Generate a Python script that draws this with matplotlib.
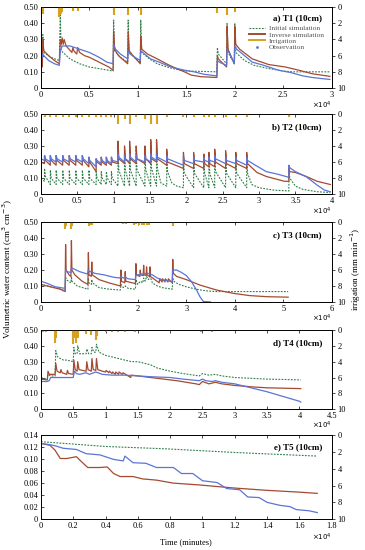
import matplotlib
matplotlib.use("Agg")
import matplotlib.pyplot as plt
from matplotlib.lines import Line2D

plt.rcParams['font.family'] = ['Liberation Serif', 'DejaVu Serif']
plt.rcParams['axes.linewidth'] = 0.6

# ---------------- DATA (time in 1e4 minutes) ----------------
# Panel a) T1
obs1 = [(0,0.19),(0.015,0.19),(0.02,0.21),(0.03,0.2),(0.08,0.17),(0.14,0.15),(0.19,0.14),(0.2,0.23),(0.22,0.26),
        (0.3,0.26),(0.4,0.24),(0.5,0.22),(0.6,0.19),(0.68,0.16),(0.745,0.15),(0.75,0.27),(0.77,0.24),(0.82,0.21),
        (0.895,0.18),(0.9,0.23),(0.92,0.21),(0.97,0.19),(1.025,0.17),(1.03,0.23),(1.05,0.22),(1.13,0.18),(1.22,0.16),
        (1.34,0.13),(1.48,0.11),(1.58,0.1),(1.68,0.085),(1.815,0.075),(1.82,0.17),(1.84,0.16),(1.915,0.14),(1.92,0.24),
        (1.94,0.22),(1.995,0.15),(2.0,0.26),(2.02,0.24),(2.1,0.2),(2.18,0.16),(2.3,0.14),(2.45,0.11),(2.58,0.095),
        (2.7,0.075),(2.8,0.065),(2.9,0.058),(2.98,0.053)]
inv1 = [(0,0.15),(0.015,0.13),(0.02,0.3),(0.03,0.23),(0.08,0.2),(0.14,0.17),(0.19,0.15),(0.2,0.3),(0.21,0.27),
        (0.22,0.31),(0.23,0.27),(0.24,0.3),(0.26,0.26),(0.32,0.22),(0.33,0.25),(0.34,0.23),(0.37,0.21),(0.38,0.25),
        (0.4,0.22),(0.45,0.2),(0.5,0.19),(0.6,0.16),(0.7,0.13),(0.745,0.11),(0.75,0.35),(0.76,0.24),(0.8,0.2),
        (0.895,0.15),(0.9,0.35),(0.91,0.23),(0.95,0.2),(1.025,0.15),(1.03,0.32),(1.04,0.24),(1.1,0.21),(1.2,0.18),
        (1.31,0.145),(1.4,0.12),(1.48,0.1),(1.55,0.08),(1.65,0.07),(1.815,0.065),(1.82,0.2),(1.83,0.18),(1.915,0.13),
        (1.92,0.38),(1.93,0.24),(1.995,0.15),(2.0,0.38),(2.01,0.27),(2.05,0.24),(2.18,0.18),(2.35,0.145),(2.52,0.13),
        (2.66,0.11),(2.8,0.088),(2.98,0.072)]
ini1 = [(0,0.14),(0.015,0.14),(0.02,0.33),(0.03,0.22),(0.1,0.19),(0.19,0.17),(0.2,0.45),(0.21,0.23),(0.3,0.18),
        (0.4,0.15),(0.5,0.13),(0.6,0.12),(0.745,0.105),(0.75,0.42),(0.76,0.23),(0.82,0.19),(0.895,0.16),(0.9,0.42),
        (0.91,0.23),(0.96,0.19),(1.025,0.16),(1.03,0.42),(1.04,0.22),(1.12,0.18),(1.2,0.15),(1.3,0.13),(1.4,0.115),
        (1.5,0.105),(1.815,0.1),(1.82,0.25),(1.83,0.21),(1.915,0.15),(1.92,0.4),(1.93,0.22),(1.995,0.15),(2.0,0.4),
        (2.01,0.22),(2.1,0.17),(2.2,0.14),(2.35,0.12),(2.5,0.105),(2.6,0.1),(2.98,0.1)]
irr1_t = [0.02, 0.19, 0.2, 0.21, 0.22, 0.33, 0.38, 0.75, 0.9, 1.03, 1.82, 1.92, 2.0]
irr1_v = [0.9, 1.2, 1.0, 0.8, 0.6, 0.5, 0.5, 1.0, 1.0, 1.0, 0.7, 1.0, 0.6]

# Panel b) T2 : irrigation events and, per series, value before / peak / after each event
ev2 = [0.05,0.13,0.21,0.3,0.39,0.48,0.57,0.66,0.76,0.83,0.9,0.97,1.06,1.15,1.22,1.31,1.43,1.51,1.59,1.73,
       1.96,2.1,2.24,2.31,2.39,2.54,2.68,2.83,3.41]
obs2_pre  = [0.21,0.2,0.2,0.2,0.2,0.2,0.2,0.19,0.17,0.19,0.19,0.19,0.2,0.2,0.2,0.2,0.2,0.2,0.21,0.2,
             0.18,0.19,0.2,0.2,0.2,0.19,0.19,0.18,0.105]
obs2_peak = [0.24,0.24,0.24,0.24,0.24,0.24,0.24,0.23,0.22,0.23,0.23,0.23,0.25,0.24,0.25,0.24,0.24,0.25,0.25,0.24,
             0.23,0.23,0.23,0.23,0.24,0.23,0.23,0.23,0.18]
obs2_post = [0.22,0.22,0.22,0.22,0.22,0.22,0.22,0.21,0.21,0.21,0.21,0.21,0.23,0.22,0.23,0.22,0.22,0.23,0.23,0.22,
             0.21,0.21,0.21,0.21,0.22,0.21,0.21,0.21,0.165]
obs2_extra = [(0,0.22),(2.95,0.18),(3.1,0.14),(3.25,0.125),(3.5,0.14),(3.65,0.108),(3.8,0.056),(3.9,0.025),(3.98,0.015)]
inv2_pre  = [0.19,0.18,0.18,0.18,0.18,0.18,0.18,0.17,0.14,0.18,0.18,0.18,0.19,0.19,0.19,0.19,0.19,0.19,0.2,0.18,
             0.16,0.16,0.16,0.17,0.17,0.16,0.16,0.16,0.08]
inv2_peak = [0.24,0.24,0.24,0.24,0.24,0.24,0.24,0.23,0.22,0.23,0.23,0.23,0.33,0.3,0.33,0.3,0.3,0.34,0.34,0.28,
             0.26,0.26,0.25,0.26,0.28,0.27,0.26,0.26,0.16]
inv2_post = [0.21,0.21,0.21,0.21,0.21,0.21,0.21,0.2,0.2,0.2,0.2,0.2,0.22,0.22,0.22,0.22,0.22,0.22,0.22,0.2,
             0.19,0.19,0.19,0.19,0.2,0.19,0.19,0.19,0.14]
inv2_extra = [(0,0.2),(2.97,0.135),(3.1,0.11),(3.35,0.08),(3.5,0.135),(3.65,0.11),(3.8,0.08),(3.98,0.06)]
ini2_pre  = [0.08,0.06,0.06,0.06,0.06,0.06,0.06,0.06,0.06,0.06,0.06,0.06,0.05,0.05,0.05,0.05,0.05,0.05,0.05,0.05,
             0.04,0.04,0.04,0.04,0.04,0.04,0.04,0.04,0.02]
ini2_peak = [0.16,0.15,0.15,0.15,0.15,0.15,0.15,0.15,0.14,0.14,0.14,0.14,0.3,0.28,0.3,0.28,0.28,0.33,0.33,0.26,
             0.24,0.24,0.23,0.24,0.26,0.25,0.24,0.24,0.17]
ini2_post = [0.11,0.1,0.1,0.1,0.1,0.1,0.1,0.1,0.1,0.1,0.1,0.1,0.15,0.15,0.15,0.15,0.15,0.16,0.16,0.14,
             0.13,0.13,0.13,0.13,0.14,0.13,0.13,0.13,0.1]
ini2_extra = [(0,0.1),(1.65,0.07),(1.8,0.07),(1.87,0.05),(2.9,0.06),(3.0,0.04),(3.2,0.025),(3.5,0.05),(3.6,0.03),
              (3.8,0.015),(3.98,0.01)]
irr2_v = [0.4,0.4,0.4,0.4,0.4,0.4,0.4,0.4,0.4,0.4,0.4,0.4,1.3,0.7,1.3,0.4,0.7,1.3,1.3,0.4,
          0.4,0.4,0.4,0.4,0.4,0.4,0.4,0.4,0.4]

# Panel c) T3
obs3 = [(0,0.13),(0.1,0.12),(0.3,0.095),(0.5,0.085),(0.51,0.2),(0.53,0.19),(0.62,0.185),(0.63,0.21),(0.66,0.21),
        (0.8,0.19),(0.96,0.175),(0.98,0.2),(1.0,0.19),(1.05,0.19),(1.1,0.18),(1.3,0.17),(1.5,0.155),(1.62,0.15),
        (1.65,0.16),(1.7,0.15),(1.74,0.155),(1.8,0.145),(1.95,0.14),(1.96,0.17),(2.0,0.17),(2.1,0.175),(2.2,0.18),
        (2.3,0.17),(2.4,0.15),(2.5,0.14),(2.6,0.135),(2.71,0.125),(2.72,0.2),(2.8,0.2),(2.9,0.185),(3.0,0.165),
        (3.1,0.13),(3.21,0.075),(3.28,0.033),(3.35,0.003),(3.5,0.0)]
inv3 = [(0,0.11),(0.2,0.095),(0.4,0.08),(0.5,0.065),(0.51,0.36),(0.52,0.2),(0.58,0.17),(0.62,0.16),(0.63,0.385),
        (0.64,0.2),(0.7,0.17),(0.85,0.13),(0.97,0.11),(0.98,0.31),(0.99,0.17),(1.04,0.16),(1.05,0.25),(1.06,0.17),
        (1.2,0.14),(1.4,0.12),(1.64,0.1),(1.65,0.2),(1.66,0.13),(1.73,0.12),(1.74,0.19),(1.75,0.13),(1.95,0.115),
        (1.96,0.24),(1.97,0.17),(2.04,0.16),(2.05,0.2),(2.06,0.17),(2.11,0.165),(2.12,0.23),(2.13,0.17),(2.17,0.165),
        (2.18,0.22),(2.19,0.17),(2.24,0.16),(2.25,0.22),(2.26,0.16),(2.35,0.14),(2.44,0.12),(2.45,0.145),(2.5,0.125),
        (2.51,0.145),(2.56,0.125),(2.57,0.145),(2.62,0.125),(2.63,0.145),(2.71,0.12),(2.72,0.267),(2.73,0.18),
        (2.8,0.16),(3.0,0.14),(3.28,0.106),(3.62,0.075),(3.97,0.054),(4.3,0.04),(4.66,0.033),(5.1,0.03)]
ini3 = [(0,0.11),(0.2,0.095),(0.4,0.08),(0.5,0.07),(0.51,0.16),(0.52,0.14),(0.62,0.12),(0.63,0.16),(0.64,0.13),
        (0.75,0.1),(0.97,0.08),(0.98,0.15),(0.99,0.12),(1.04,0.11),(1.05,0.14),(1.06,0.12),(1.2,0.09),(1.4,0.08),
        (1.64,0.075),(1.65,0.11),(1.7,0.09),(1.74,0.1),(1.8,0.085),(1.95,0.08),(1.96,0.14),(2.0,0.11),(2.05,0.13),
        (2.1,0.12),(2.12,0.15),(2.15,0.13),(2.18,0.16),(2.22,0.14),(2.25,0.16),(2.3,0.12),(2.4,0.1),(2.5,0.09),
        (2.6,0.085),(2.71,0.08),(2.72,0.15),(2.74,0.13),(2.85,0.11),(3.0,0.095),(3.2,0.08),(3.4,0.07),(3.6,0.065),
        (5.1,0.065)]
irr3_t = [0.5,0.52,0.63,0.65,1.0,1.02,1.05,1.7,1.76,1.93,1.97,2.03,2.08,2.13,2.18,2.24,2.72]
irr3_v = [0.8,0.5,0.9,0.5,0.5,0.3,0.4,0.2,0.2,0.3,0.2,0.3,0.3,0.3,0.3,0.3,0.5]

# Panel d) T4
obs4 = [(0,0.175),(0.1,0.175),(0.13,0.18),(0.15,0.2),(0.25,0.2),(0.4,0.2),(0.5,0.2),(0.52,0.24),(0.55,0.225),
        (0.6,0.22),(0.7,0.23),(0.75,0.22),(0.85,0.235),(0.95,0.22),(1.1,0.215),(1.3,0.215),(1.5,0.21),(1.7,0.205),
        (2.0,0.2),(2.2,0.19),(2.45,0.18),(2.5,0.19),(2.55,0.18),(2.65,0.175),(2.7,0.18),(2.8,0.17),(3.0,0.16),
        (3.25,0.135),(3.5,0.11),(3.75,0.08),(4.0,0.05),(4.02,0.045)]
inv4 = [(0,0.19),(0.1,0.185),(0.11,0.24),(0.13,0.22),(0.22,0.22),(0.23,0.29),(0.25,0.24),(0.3,0.23),(0.31,0.25),
        (0.33,0.23),(0.4,0.22),(0.41,0.245),(0.43,0.225),(0.5,0.22),(0.51,0.31),(0.53,0.25),(0.56,0.24),(0.57,0.3),
        (0.59,0.25),(0.7,0.24),(0.71,0.3),(0.73,0.25),(0.78,0.24),(0.79,0.32),(0.81,0.25),(0.85,0.245),(0.86,0.32),
        (0.88,0.25),(0.95,0.24),(1.0,0.235),(1.01,0.245),(1.05,0.23),(1.06,0.24),(1.1,0.225),(1.11,0.235),
        (1.15,0.22),(1.16,0.235),(1.2,0.22),(1.21,0.235),(1.26,0.22),(1.27,0.23),(1.35,0.21),(1.39,0.2),
        (1.4,0.215),(1.5,0.21),(1.7,0.2),(1.9,0.19),(2.1,0.18),(2.4,0.16),(2.45,0.155),(2.5,0.175),(2.6,0.16),
        (2.7,0.17),(2.8,0.16),(3.0,0.15),(3.3,0.14),(3.5,0.135),(4.02,0.13)]
ini4 = [(0,0.2),(0.1,0.19),(0.11,0.22),(0.15,0.21),(0.22,0.21),(0.23,0.37),(0.26,0.33),(0.3,0.32),(0.35,0.31),
        (0.4,0.31),(0.5,0.3),(0.51,0.39),(0.53,0.35),(0.56,0.35),(0.57,0.4),(0.6,0.35),(0.7,0.35),(0.71,0.38),
        (0.74,0.35),(0.78,0.35),(0.79,0.39),(0.82,0.36),(0.85,0.36),(0.86,0.41),(0.9,0.36),(1.0,0.34),(1.1,0.33),
        (1.2,0.32),(1.3,0.31),(1.4,0.3),(1.5,0.3),(1.6,0.29),(1.7,0.28),(1.8,0.26),(1.9,0.25),(2.0,0.24),
        (2.2,0.225),(2.45,0.21),(2.5,0.225),(2.6,0.215),(2.7,0.22),(2.8,0.21),(3.0,0.2),(3.5,0.19),(4.02,0.185)]
irr4_t = [0.03,0.08,0.22,0.24,0.5,0.52,0.55,0.57,0.7,0.78,0.85,0.87,1.0,1.1,1.2,1.3,1.45,2.48,2.65]
irr4_v = [0.3,0.3,1.7,1.0,1.8,1.0,1.7,1.0,0.5,0.6,1.3,0.8,0.2,0.2,0.2,0.2,0.2,0.2,0.2]

# Panel e) T5
obs5 = [(0,0.126),(0.056,0.124),(0.09,0.122),(0.138,0.118),(0.22,0.116),(0.28,0.109),(0.365,0.107),(0.45,0.0995),
        (0.51,0.097),(0.52,0.105),(0.57,0.094),(0.65,0.093),(0.715,0.086),(0.82,0.086),(0.87,0.076),(0.94,0.076),
        (1.0,0.064),(1.09,0.061),(1.15,0.051),(1.23,0.049),(1.28,0.037),(1.35,0.036),(1.4,0.028),(1.48,0.023),
        (1.54,0.021),(1.58,0.016),(1.66,0.014),(1.71,0.011)]
inv5 = [(0,0.126),(0.056,0.123),(0.087,0.115),(0.12,0.101),(0.16,0.101),(0.22,0.104),(0.25,0.096),(0.29,0.086),
        (0.365,0.086),(0.41,0.087),(0.45,0.076),(0.49,0.071),(0.57,0.071),(0.63,0.067),(0.715,0.065),(0.82,0.06),
        (0.98,0.057),(1.19,0.052),(1.4,0.048),(1.6,0.045),(1.71,0.043)]
ini5 = [(0,0.129),(0.4,0.121),(0.78,0.117),(1.2,0.111),(1.71,0.105)]

titles = ["a) T1 (10cm)", "b) T2 (10cm)", "c) T3 (10cm)", "d) T4 (10cm)", "e) T5 (10cm)"]
xmax = [3, 4, 6, 4.5, 1.8]
xstep = [0.5, 0.5, 1, 0.5, 0.2]
ymax = [0.5, 0.5, 0.5, 0.5, 0.14]
ystep = [0.1, 0.1, 0.1, 0.1, 0.02]

# ---------------- STYLE ----------------
C_OBS = "#5b74d6"
C_INV = "#a34b30"
C_INI = "#2f7d4a"
C_IRR = "#d6a21e"


def spikes(ev, pre, peak, post, extra, dt=0.012):
    pts = list(extra)
    for t, a, p, b in zip(ev, pre, peak, post):
        pts += [(t, a), (t + 1e-4, p), (t + dt, b)]
    pts.sort(key=lambda q: q[0])
    return pts


obs2 = spikes(ev2, obs2_pre, obs2_peak, obs2_post, obs2_extra)
inv2 = spikes(ev2, inv2_pre, inv2_peak, inv2_post, inv2_extra)
ini2 = spikes(ev2, ini2_pre, ini2_peak, ini2_post, ini2_extra)

panels = [
    (obs1, inv1, ini1, irr1_t, irr1_v),
    (obs2, inv2, ini2, ev2, irr2_v),
    (obs3, inv3, ini3, irr3_t, irr3_v),
    (obs4, inv4, ini4, irr4_t, irr4_v),
    (obs5, inv5, ini5, [], []),
]

fig = plt.figure(figsize=(3.65, 5.5), dpi=100)
L, W = 0.112, 0.797
boxes = [(0.840, 0.147), (0.647, 0.146), (0.451, 0.145), (0.256, 0.144), (0.056, 0.153)]
title_y = [0.86, 0.83, 0.84, 0.83, 0.86]
FS = 6

for i, (obs, inv, ini, it, iv) in enumerate(panels):
    b, h = boxes[i]
    ax = fig.add_axes([L, b, W, h])
    for data, col, ls, lw in [(ini, C_INI, (0, (1.6, 1.2)), 0.8), (inv, C_INV, '-', 0.9), (obs, C_OBS, '-', 0.9)]:
        xs, ys = zip(*data)
        ax.plot(xs, ys, color=col, ls=ls, lw=lw)
    ax.set_xlim(0, xmax[i])
    ax.set_ylim(0, ymax[i])
    n = int(round(xmax[i] / xstep[i]))
    xt = [k * xstep[i] for k in range(n + 1)]
    ax.set_xticks(xt)
    ax.set_xticklabels(["%g" % round(v, 2) for v in xt], fontsize=FS)
    m = int(round(ymax[i] / ystep[i]))
    yt = [k * ystep[i] for k in range(m + 1)]
    ax.set_yticks(yt)
    ax.set_yticklabels(["0" if k == 0 else "%.2f" % v for k, v in enumerate(yt)], fontsize=FS)
    ax.tick_params(axis='both', direction='in', length=2, width=0.5, pad=2, top=True)
    ax.tick_params(axis='y', right=False)

    ax2 = ax.twinx()
    ax2.set_ylim(10, 0)
    ax2.set_yticks([0, 2, 4, 6, 8, 10])
    ax2.set_yticklabels(["0", "2", "4", "6", "8", "10"], fontsize=FS)
    ax2.tick_params(axis='y', direction='out', length=2, width=0.5, pad=2)
    if len(it):
        ax2.vlines(it, 0, iv, color=C_IRR, lw=1.5)

    ax.text(0.966, title_y[i], titles[i], transform=ax.transAxes, ha='right', va='center',
            fontsize=6.5, fontweight='bold')
    ax.text(1.0, -0.21, r"$\times10^4$", transform=ax.transAxes, ha='right', va='center', fontsize=5)

    if i == 0:
        handles = [Line2D([], [], color=C_INI, ls=(0, (1.6, 1.2)), lw=0.8),
                   Line2D([], [], color=C_INV, lw=1.4),
                   Line2D([], [], color=C_IRR, lw=1.4),
                   Line2D([], [], color=C_OBS, ls='none', marker='.', ms=2)]
        leg = ax.legend(handles, ["Initial simulation", "Inverse simulation", "Irrigation", "Observation"],
                        loc='upper left', bbox_to_anchor=(0.70, 0.83), frameon=False, fontsize=5.3,
                        handlelength=2.2, labelspacing=0.02, handletextpad=0.5, borderpad=0.1)
        for t in leg.get_texts():
            t.set_color("#555555")
    if i == 4:
        ax.set_xlabel("Time (minutes)", fontsize=6, labelpad=6)

fig.text(0.022, 0.51, "Volumetric water content (cm$^3$ cm$^{-3}$)", rotation=90, ha='center', va='center',
         fontsize=6.5)
fig.text(0.975, 0.51, "irrigation (mm min$^{-1}$)", rotation=90, ha='center', va='center', fontsize=6.5)

fig.savefig("out.png", dpi=100)
